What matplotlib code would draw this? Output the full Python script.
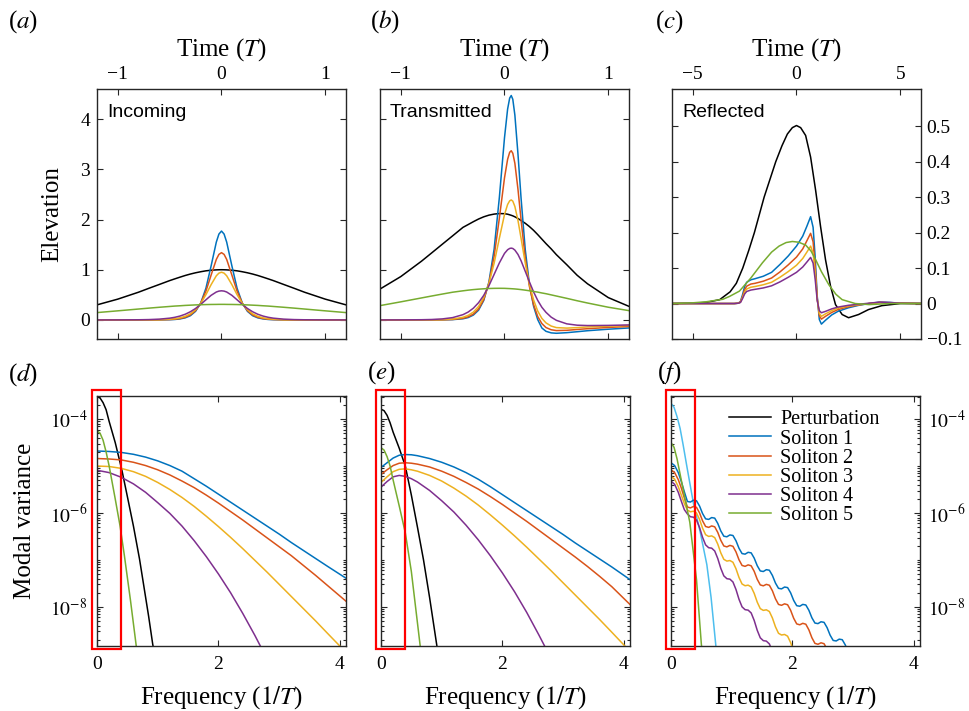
import matplotlib
matplotlib.use("Agg")
import matplotlib.pyplot as plt
import numpy as np
from matplotlib.patches import Rectangle
from matplotlib.ticker import FixedLocator, FixedFormatter, LogLocator, NullFormatter

plt.rcParams['font.family'] = ['Liberation Serif', 'DejaVu Serif']
plt.rcParams['mathtext.fontset'] = 'stix'

C_BLACK = 'black'
C_BLUE = '#0072BD'
C_RED = '#D95319'
C_YELLOW = '#EDB120'
C_PURPLE = '#7E2F8E'
C_GREEN = '#77AC30'
C_CYAN = '#4DBEEE'

# ---------------- (a) incoming ----------------
t_a = [-1.2, -1.0, -0.8, -0.7, -0.6, -0.5, -0.45, -0.4, -0.35, -0.3, -0.25, -0.2, -0.15, -0.1, -0.05, -0.025,
       0, 0.025, 0.05, 0.1, 0.15, 0.2, 0.25, 0.3, 0.35, 0.4, 0.45, 0.5, 0.6, 0.7, 0.8, 1.0, 1.2]
a_pert = [0.30, 0.414, 0.552, 0.63, 0.706, 0.783, 0.818, 0.852, 0.885, 0.914, 0.939, 0.96, 0.978, 0.99, 0.997, 0.999,
          1.0, 0.999, 0.997, 0.99, 0.978, 0.96, 0.939, 0.914, 0.885, 0.852, 0.818, 0.783, 0.706, 0.63, 0.552, 0.414, 0.30]
a_sol1 = [0, 0, 0, 0, 0.001, 0.0045, 0.009, 0.02, 0.041, 0.084, 0.171, 0.338, 0.632, 1.077, 1.55, 1.71,
          1.77, 1.71, 1.55, 1.077, 0.632, 0.338, 0.171, 0.084, 0.041, 0.02, 0.009, 0.0045, 0.001, 0, 0, 0, 0]
a_sol2 = [0, 0, 0, 0.0005, 0.002, 0.0075, 0.0143, 0.0275, 0.0525, 0.0995, 0.186, 0.336, 0.575, 0.894, 1.205, 1.305,
          1.34, 1.305, 1.205, 0.894, 0.575, 0.336, 0.186, 0.0995, 0.0525, 0.0275, 0.0143, 0.0075, 0.002, 0.0005, 0, 0, 0]
a_sol3 = [0, 0, 0.0005, 0.0015, 0.0045, 0.0137, 0.024, 0.0416, 0.0717, 0.122, 0.204, 0.328, 0.504, 0.703, 0.879, 0.932,
          0.95, 0.932, 0.879, 0.703, 0.504, 0.328, 0.204, 0.122, 0.0717, 0.0416, 0.024, 0.0137, 0.0045, 0.0015, 0.0005, 0, 0]
a_sol4 = [0.0001, 0.0006, 0.003, 0.0068, 0.0154, 0.0349, 0.052, 0.0771, 0.113, 0.163, 0.228, 0.31, 0.401, 0.49, 0.556, 0.574,
          0.58, 0.574, 0.556, 0.49, 0.401, 0.31, 0.228, 0.163, 0.113, 0.0771, 0.052, 0.0349, 0.0154, 0.0068, 0.003, 0.0006, 0.0001]
a_sol5 = [0.146, 0.181, 0.217, 0.235, 0.252, 0.268, 0.276, 0.282, 0.289, 0.294, 0.299, 0.303, 0.306, 0.308, 0.309, 0.31,
          0.31, 0.31, 0.309, 0.308, 0.306, 0.303, 0.299, 0.294, 0.289, 0.282, 0.276, 0.268, 0.252, 0.235, 0.217, 0.181, 0.146]

# ---------------- (b) transmitted ----------------
t_b = [-1.2, -1.0, -0.8, -0.7, -0.6, -0.5, -0.4, -0.35, -0.3, -0.25, -0.2, -0.15, -0.1, -0.05, 0.0, 0.03, 0.05, 0.065,
       0.08, 0.1, 0.13, 0.16, 0.2, 0.24, 0.28, 0.32, 0.36, 0.4, 0.45, 0.5, 0.6, 0.7, 0.8, 1.0, 1.2]
b_pert = [0.615, 0.863, 1.17, 1.338, 1.507, 1.675, 1.844, 1.90, 1.957, 2.01, 2.054, 2.087, 2.108, 2.119, 2.116, 2.106, 2.094, 2.084,
          2.073, 2.054, 2.02, 1.98, 1.925, 1.86, 1.785, 1.70, 1.61, 1.52, 1.415, 1.30, 1.10, 0.89, 0.72, 0.445, 0.27]
b_sol1 = [0, 0, 0, 0.001, 0.002, 0.006, 0.023, 0.047, 0.097, 0.194, 0.388, 0.757, 1.41, 2.43, 3.63, 4.20, 4.42, 4.47,
          4.395, 4.08, 3.30, 2.415, 1.40, 0.716, 0.275, 0.007, -0.16, -0.227, -0.258, -0.266, -0.254, -0.235, -0.215, -0.185, -0.16]
b_sol2 = [0, 0, 0, 0.001, 0.002, 0.009, 0.032, 0.062, 0.116, 0.218, 0.406, 0.734, 1.268, 2.02, 2.83, 3.20, 3.34, 3.37,
          3.32, 3.12, 2.60, 1.986, 1.235, 0.668, 0.306, 0.069, -0.072, -0.152, -0.196, -0.212, -0.207, -0.19, -0.175, -0.15, -0.13]
b_sol3 = [0, 0, 0.001, 0.003, 0.006, 0.017, 0.053, 0.091, 0.156, 0.267, 0.448, 0.728, 1.129, 1.623, 2.10, 2.30, 2.373, 2.39,
          2.366, 2.26, 1.98, 1.623, 1.133, 0.716, 0.40, 0.177, 0.031, -0.059, -0.122, -0.153, -0.163, -0.153, -0.14, -0.125, -0.11]
b_sol4 = [0, 0.001, 0.004, 0.0085, 0.02, 0.046, 0.105, 0.157, 0.234, 0.343, 0.49, 0.682, 0.907, 1.134, 1.325, 1.398, 1.424, 1.43,
          1.423, 1.391, 1.304, 1.177, 0.969, 0.759, 0.56, 0.39, 0.252, 0.151, 0.055, -0.008, -0.078, -0.105, -0.112, -0.109, -0.1]
b_sol5 = [0.285, 0.36, 0.438, 0.477, 0.515, 0.552, 0.58, 0.593, 0.604, 0.613, 0.62, 0.626, 0.629, 0.63, 0.629, 0.626, 0.624, 0.622,
          0.62, 0.617, 0.611, 0.604, 0.593, 0.581, 0.567, 0.554, 0.537, 0.522, 0.499, 0.476, 0.43, 0.382, 0.337, 0.253, 0.185]

# ---------------- (c) reflected ----------------
t_c_pert = [-6, -5, -4.35, -3.7, -3.2, -2.9, -2.59, -2.3, -2.03, -1.56, -1.0, -0.7, -0.44, -0.2, 0.0,
            0.2, 0.44, 0.68, 0.92, 1.16, 1.4, 1.64, 1.88, 2.2, 2.51, 2.99, 3.47, 4.11, 5.0, 6.0]
c_pert = [0.0, 0.001, 0.003, 0.011, 0.033, 0.057, 0.1, 0.15, 0.2, 0.3, 0.4, 0.445, 0.478, 0.496, 0.502,
          0.496, 0.474, 0.413, 0.32, 0.217, 0.123, 0.049, -0.003, -0.031, -0.04, -0.031, -0.017, -0.006, 0.0, 0.0]
t_c = [-6, -4, -3, -2.8, -2.7, -2.6, -2.5, -2.4, -2.2, -2.0, -1.6, -1.2, -0.8, -0.4, 0.0, 0.3, 0.5, 0.68,
       0.8, 0.9, 1.0, 1.1, 1.2, 1.4, 1.7, 2.0, 2.5, 3.0, 3.5, 4.0, 4.5, 5.0, 6.0]
c_sol1 = [0, 0, 0, 0.001, 0.006, 0.025, 0.048, 0.06, 0.067, 0.07, 0.077, 0.088, 0.11, 0.134, 0.162, 0.19, 0.218, 0.245,
          0.215, 0.13, 0.02, -0.045, -0.058, -0.047, -0.032, -0.022, -0.012, -0.005, 0.0, 0.004, 0.003, 0.001, 0.0]
c_sol2 = [0, 0, 0, 0.001, 0.005, 0.02, 0.039, 0.049, 0.055, 0.057, 0.063, 0.072, 0.089, 0.109, 0.131, 0.154, 0.177, 0.198,
          0.174, 0.105, 0.015, -0.034, -0.044, -0.036, -0.025, -0.017, -0.009, -0.004, 0.0, 0.003, 0.002, 0.001, 0.0]
c_sol3 = [0, 0, 0, 0.001, 0.004, 0.017, 0.032, 0.041, 0.046, 0.048, 0.053, 0.06, 0.074, 0.09, 0.108, 0.127, 0.145, 0.162,
          0.142, 0.086, 0.012, -0.028, -0.036, -0.029, -0.02, -0.013, -0.007, -0.003, 0.0, 0.003, 0.002, 0.001, 0.0]
c_sol4 = [0, 0, 0, 0.001, 0.003, 0.014, 0.027, 0.034, 0.038, 0.04, 0.044, 0.05, 0.061, 0.074, 0.088, 0.103, 0.117, 0.13,
          0.114, 0.068, 0.008, -0.02, -0.026, -0.022, -0.015, -0.01, -0.005, -0.002, 0.001, 0.004, 0.003, 0.001, 0.0]
t_c_sol5 = [-6, -5, -4.35, -3.55, -3.23, -2.75, -2.2, -1.64, -1.2, -0.84, -0.5, -0.2, 0.1, 0.44, 0.7, 0.92,
            1.2, 1.56, 1.9, 2.2, 2.83, 3.5, 4.5, 6.0]
c_sol5 = [0.0, 0.002, 0.005, 0.012, 0.02, 0.035, 0.072, 0.115, 0.145, 0.162, 0.172, 0.175, 0.173, 0.165, 0.148, 0.124,
          0.09, 0.053, 0.026, 0.011, 0.0, -0.003, 0.0, 0.0]

# ---------------- (d) incoming spectra, log10 of modal variance ----------------
f_d_pert = [0, 0.05, 0.1, 0.15, 0.2, 0.3, 0.407, 0.5, 0.6, 0.7, 0.764, 0.85, 0.918, 0.96]
d_pert = [-3.52, -3.55, -3.65, -3.8, -4.05, -4.5, -5.07, -5.65, -6.28, -6.98, -7.5, -8.2, -8.8, -9.1]
f_d_sol5 = [0, 0.05, 0.1, 0.15, 0.2, 0.25, 0.3, 0.38, 0.45, 0.55, 0.643, 0.67]
d_sol5 = [-4.25, -4.3, -4.45, -4.7, -5.0, -5.35, -5.7, -6.28, -6.9, -7.85, -8.8, -9.1]
f_d = [0, 0.2, 0.4, 0.6, 0.8, 1.0, 1.2, 1.4, 1.6, 1.8, 2.0, 2.2, 2.4, 2.6, 2.8, 3.0, 3.2, 3.4, 3.6, 3.8, 4.1]
d_sol1 = [-4.68, -4.69, -4.71, -4.75, -4.81, -4.89, -4.99, -5.11, -5.27, -5.43, -5.6, -5.77, -5.94, -6.11, -6.28,
          -6.45, -6.63, -6.8, -6.97, -7.14, -7.39]
d_sol2 = [-4.84, -4.85, -4.87, -4.92, -4.99, -5.08, -5.19, -5.32, -5.46, -5.62, -5.79, -5.97, -6.15, -6.34, -6.53,
          -6.72, -6.91, -7.12, -7.33, -7.55, -7.88]
d_sol3 = [-5.0, -5.01, -5.05, -5.12, -5.22, -5.35, -5.5, -5.67, -5.86, -6.07, -6.29, -6.52, -6.76, -7.01, -7.26,
          -7.52, -7.78, -8.04, -8.3, -8.57, -8.97]
d_sol4 = [-5.09, -5.14, -5.24, -5.38, -5.56, -5.78, -6.01, -6.28, -6.59, -6.93, -7.3, -7.7, -8.14, -8.61, -9.11,
          -9.6, -10, -10, -10, -10, -10]

# ---------------- (e) transmitted spectra ----------------
f_e_pert = [0, 0.05, 0.1, 0.15, 0.2, 0.3, 0.4, 0.5, 0.6, 0.7, 0.8, 0.92, 0.96]
e_pert = [-3.79, -3.82, -3.92, -4.08, -4.28, -4.62, -5.0, -5.62, -6.3, -7.0, -7.8, -8.83, -9.1]
f_e_sol5 = [0, 0.05, 0.1, 0.15, 0.2, 0.3, 0.4, 0.5, 0.645, 0.67]
e_sol5 = [-4.61, -4.66, -4.8, -5.0, -5.3, -5.85, -6.42, -7.25, -8.83, -9.1]
f_e = [0, 0.1, 0.2, 0.3, 0.4, 0.5, 0.6, 0.8, 1.0, 1.2, 1.4, 1.6, 1.8, 2.0, 2.2, 2.4, 2.6, 2.8, 3.0, 3.2, 3.4, 3.6, 3.8, 4.1]
e_sol1 = [-5.03, -4.93, -4.83, -4.77, -4.755, -4.76, -4.78, -4.84, -4.92, -5.02, -5.14, -5.28, -5.44, -5.61, -5.78,
          -5.95, -6.12, -6.29, -6.46, -6.64, -6.81, -6.98, -7.15, -7.42]
e_sol2 = [-5.18, -5.08, -4.99, -4.94, -4.93, -4.94, -4.96, -5.02, -5.11, -5.22, -5.35, -5.49, -5.65, -5.82, -6.0,
          -6.18, -6.37, -6.56, -6.75, -6.94, -7.14, -7.35, -7.57, -7.95]
e_sol3 = [-5.35, -5.23, -5.12, -5.07, -5.06, -5.08, -5.11, -5.2, -5.32, -5.47, -5.64, -5.83, -6.04, -6.26, -6.49,
          -6.73, -6.98, -7.23, -7.49, -7.75, -8.01, -8.27, -8.54, -8.95]
e_sol4 = [-5.45, -5.33, -5.23, -5.2, -5.22, -5.27, -5.34, -5.52, -5.74, -5.98, -6.26, -6.57, -6.91, -7.28, -7.68,
          -8.12, -8.6, -9.1, -9.6, -10, -10, -10, -10, -10]

# ---------------- (f) reflected spectra ----------------
f_f_pert = [0, 0.05, 0.1, 0.15, 0.2, 0.26, 0.37, 0.48, 0.59, 0.66, 0.74, 0.77]
f_pert = [-3.66, -3.75, -3.95, -4.2, -4.55, -5.0, -5.8, -6.4, -7.1, -7.8, -8.85, -9.1]
f_f_sol5 = [0, 0.05, 0.1, 0.2, 0.31, 0.42, 0.5, 0.53]
f_sol5 = [-4.5, -4.6, -4.85, -5.5, -6.2, -7.42, -8.8, -9.1]
f_f = [0, 0.06, 0.12, 0.17, 0.22, 0.27, 0.32, 0.37,
       0.42, 0.47, 0.52, 0.57, 0.62, 0.67, 0.72, 0.77, 0.82, 0.87, 0.92, 0.97, 1.02, 1.07, 1.12, 1.17,
       1.22, 1.27, 1.32, 1.37, 1.42, 1.47, 1.52, 1.57, 1.62, 1.67, 1.72, 1.77, 1.82, 1.87, 1.92, 1.97,
       2.02, 2.07, 2.12, 2.17, 2.22, 2.27, 2.32, 2.37, 2.42, 2.47, 2.52, 2.57, 2.62, 2.67, 2.72, 2.77,
       2.82, 2.87, 2.92, 2.97]
f_sol1 = [-4.93, -4.99, -5.14, -5.33, -5.55, -5.755, -5.767, -5.728,
          -5.74, -5.852, -6.013, -6.125, -6.137, -6.098, -6.11, -6.222, -6.383, -6.495, -6.507, -6.468,
          -6.48, -6.592, -6.753, -6.865, -6.877, -6.838, -6.85, -6.962, -7.123, -7.235, -7.247, -7.208,
          -7.22, -7.332, -7.493, -7.605, -7.617, -7.578, -7.59, -7.702, -7.863, -7.975, -7.987, -7.948,
          -7.96, -8.072, -8.233, -8.345, -8.357, -8.318, -8.33, -8.442, -8.603, -8.715, -8.727, -8.688,
          -8.70, -8.812, -8.973, -9.085]
f_sol2 = [-5.08, -5.14, -5.29, -5.47, -5.68, -5.873, -5.892, -5.861,
          -5.88, -5.999, -6.168, -6.288, -6.307, -6.276, -6.295, -6.414, -6.583, -6.703, -6.722, -6.691,
          -6.71, -6.829, -6.998, -7.118, -7.137, -7.106, -7.125, -7.244, -7.413, -7.533, -7.552, -7.521,
          -7.54, -7.659, -7.828, -7.948, -7.967, -7.936, -7.955, -8.074, -8.243, -8.363, -8.382, -8.351,
          -8.37, -8.489, -8.658, -8.778, -8.797, -8.766, -8.785, -8.904, -9.073, -9.193, -9.212, -9.181,
          -9.2, -9.319, -9.488, -9.608]
f_sol3 = [-5.22, -5.28, -5.44, -5.62, -5.8, -5.938, -5.975, -5.963,
          -6.0, -6.138, -6.325, -6.463, -6.5, -6.488, -6.525, -6.663, -6.85, -6.988, -7.025, -7.013,
          -7.05, -7.188, -7.375, -7.513, -7.55, -7.538, -7.575, -7.713, -7.9, -8.038, -8.075, -8.063,
          -8.1, -8.238, -8.425, -8.563, -8.6, -8.588, -8.625, -8.763, -8.95, -9.088, -9.125, -9.113,
          -9.7, -9.7, -9.7, -9.7, -9.7, -9.7, -9.7, -9.7, -9.7, -9.7, -9.7, -9.7,
          -9.7, -9.7, -9.7, -9.7]
f_sol4 = [-5.32, -5.39, -5.56, -5.75, -5.93, -6.02, -6.08, -6.09,
          -6.15, -6.31, -6.52, -6.68, -6.74, -6.75, -6.81, -6.97, -7.18, -7.34, -7.40, -7.41,
          -7.47, -7.63, -7.84, -8.0, -8.06, -8.07, -8.13, -8.29, -8.5, -8.66, -8.72, -8.73,
          -8.79, -8.95, -9.16, -9.32, -9.38, -9.39, -9.7, -9.7, -9.7, -9.7, -9.7, -9.7,
          -9.7, -9.7, -9.7, -9.7, -9.7, -9.7, -9.7, -9.7, -9.7, -9.7, -9.7, -9.7,
          -9.7, -9.7, -9.7, -9.7]

legend_labels = ['Perturbation', 'Soliton 1', 'Soliton 2', 'Soliton 3', 'Soliton 4', 'Soliton 5']

LW = 1.1
TICK_FS = 14
LABEL_FS = 18


def style(ax):
    for s in ax.spines.values():
        s.set_linewidth(1.0)
        s.set_color('#262626')
    ax.tick_params(which='both', direction='in', top=True, right=True, bottom=True, left=True,
                   labelsize=TICK_FS, color='#262626', width=0.8)
    ax.tick_params(which='major', length=4.5)
    ax.tick_params(which='minor', length=2.2)


fig = plt.figure(figsize=(9.7, 7.11), dpi=100)

W = 249 / 970
H = 250 / 711
top_y = 1 - 339 / 711
bot_y = 1 - 646 / 711
ax_a = fig.add_axes([97 / 970, top_y, W, H])
ax_b = fig.add_axes([380 / 970, top_y, W, H])
ax_c = fig.add_axes([672 / 970, top_y, W, H])
ax_d = fig.add_axes([97 / 970, bot_y, W, H])
ax_e = fig.add_axes([381 / 970, bot_y, W, H])
ax_f = fig.add_axes([671 / 970, bot_y, W, H])

# top row
ax_a.plot(t_a, a_pert, color=C_BLACK, lw=LW)
ax_a.plot(t_a, a_sol1, color=C_BLUE, lw=LW)
ax_a.plot(t_a, a_sol2, color=C_RED, lw=LW)
ax_a.plot(t_a, a_sol3, color=C_YELLOW, lw=LW)
ax_a.plot(t_a, a_sol4, color=C_PURPLE, lw=LW)
ax_a.plot(t_a, a_sol5, color=C_GREEN, lw=LW)

ax_b.plot(t_b, b_pert, color=C_BLACK, lw=LW)
ax_b.plot(t_b, b_sol1, color=C_BLUE, lw=LW)
ax_b.plot(t_b, b_sol2, color=C_RED, lw=LW)
ax_b.plot(t_b, b_sol3, color=C_YELLOW, lw=LW)
ax_b.plot(t_b, b_sol4, color=C_PURPLE, lw=LW)
ax_b.plot(t_b, b_sol5, color=C_GREEN, lw=LW)

ax_c.plot(t_c_pert, c_pert, color=C_BLACK, lw=LW)
ax_c.plot(t_c, c_sol1, color=C_BLUE, lw=LW)
ax_c.plot(t_c, c_sol2, color=C_RED, lw=LW)
ax_c.plot(t_c, c_sol3, color=C_YELLOW, lw=LW)
ax_c.plot(t_c, c_sol4, color=C_PURPLE, lw=LW)
ax_c.plot(t_c_sol5, c_sol5, color=C_GREEN, lw=LW)

for ax, txt in [(ax_a, 'Incoming'), (ax_b, 'Transmitted'), (ax_c, 'Reflected')]:
    style(ax)
    ax.tick_params(labeltop=True, labelbottom=False, pad=4)
    ax.xaxis.set_label_position('top')
    ax.set_xlabel('Time ($T$)', fontsize=LABEL_FS, labelpad=8)
    ax.text(0.04, 0.905, txt, transform=ax.transAxes, family='Liberation Sans', fontsize=14, va='center', ha='left')

for ax in (ax_a, ax_b):
    ax.set_xlim(-1.2, 1.2)
    ax.xaxis.set_major_locator(FixedLocator([-1, 0, 1]))
    ax.xaxis.set_major_formatter(FixedFormatter(['\u22121', '0', '1']))
    ax.set_ylim(-0.38, 4.6)
    ax.yaxis.set_major_locator(FixedLocator([0, 1, 2, 3, 4]))

ax_a.tick_params(axis='y', labelleft=True, pad=5)
ax_a.set_ylabel('Elevation', fontsize=LABEL_FS, labelpad=12)
ax_b.tick_params(axis='y', labelleft=False)

ax_c.set_xlim(-6, 6)
ax_c.xaxis.set_major_locator(FixedLocator([-5, 0, 5]))
ax_c.xaxis.set_major_formatter(FixedFormatter(['\u22125', '0', '5']))
ax_c.set_ylim(-0.1, 0.605)
ax_c.yaxis.set_major_locator(FixedLocator([-0.1, 0, 0.1, 0.2, 0.3, 0.4, 0.5]))
ax_c.yaxis.set_major_formatter(FixedFormatter(['\u22120.1', '0', '0.1', '0.2', '0.3', '0.4', '0.5']))
ax_c.tick_params(axis='y', labelleft=False, labelright=True, pad=4)

# bottom row
lines_d = []
lines_d += ax_d.semilogy(f_d_pert, 10.0 ** np.array(d_pert), color=C_BLACK, lw=LW)
lines_d += ax_d.semilogy(f_d, 10.0 ** np.array(d_sol1), color=C_BLUE, lw=LW)
lines_d += ax_d.semilogy(f_d, 10.0 ** np.array(d_sol2), color=C_RED, lw=LW)
lines_d += ax_d.semilogy(f_d, 10.0 ** np.array(d_sol3), color=C_YELLOW, lw=LW)
lines_d += ax_d.semilogy(f_d, 10.0 ** np.array(d_sol4), color=C_PURPLE, lw=LW)
lines_d += ax_d.semilogy(f_d_sol5, 10.0 ** np.array(d_sol5), color=C_GREEN, lw=LW)

ax_e.semilogy(f_e_pert, 10.0 ** np.array(e_pert), color=C_BLACK, lw=LW)
ax_e.semilogy(f_e, 10.0 ** np.array(e_sol1), color=C_BLUE, lw=LW)
ax_e.semilogy(f_e, 10.0 ** np.array(e_sol2), color=C_RED, lw=LW)
ax_e.semilogy(f_e, 10.0 ** np.array(e_sol3), color=C_YELLOW, lw=LW)
ax_e.semilogy(f_e, 10.0 ** np.array(e_sol4), color=C_PURPLE, lw=LW)
ax_e.semilogy(f_e_sol5, 10.0 ** np.array(e_sol5), color=C_GREEN, lw=LW)

ax_f.semilogy(f_f_pert, 10.0 ** np.array(f_pert), color=C_CYAN, lw=LW)
ax_f.semilogy(f_f, 10.0 ** np.array(f_sol1), color=C_BLUE, lw=LW)
ax_f.semilogy(f_f, 10.0 ** np.array(f_sol2), color=C_RED, lw=LW)
ax_f.semilogy(f_f, 10.0 ** np.array(f_sol3), color=C_YELLOW, lw=LW)
ax_f.semilogy(f_f, 10.0 ** np.array(f_sol4), color=C_PURPLE, lw=LW)
ax_f.semilogy(f_f_sol5, 10.0 ** np.array(f_sol5), color=C_GREEN, lw=LW)

for ax in (ax_d, ax_e, ax_f):
    style(ax)
    ax.set_xlim(0, 4.1)
    ax.set_ylim(10 ** -8.834, 10 ** -3.508)
    ax.xaxis.set_major_locator(FixedLocator([0, 2, 4]))
    ax.xaxis.set_major_formatter(FixedFormatter(['0', '2', '4']))
    ax.yaxis.set_major_locator(FixedLocator([1e-8, 1e-6, 1e-4]))
    ax.yaxis.set_major_formatter(FixedFormatter(['$10^{-8}$', '$10^{-6}$', '$10^{-4}$']))
    ax.yaxis.set_minor_locator(LogLocator(base=10, subs=np.arange(1, 10), numticks=20))
    ax.yaxis.set_minor_formatter(NullFormatter())
    ax.tick_params(axis='x', pad=7)
    ax.set_xlabel('Frequency ($1/T$)', fontsize=LABEL_FS, labelpad=8)
    ax.add_patch(Rectangle((-0.022, -0.012), 0.118, 1.035, transform=ax.transAxes, fill=False,
                           edgecolor='#FF0000', lw=1.6, clip_on=False, zorder=5))

ax_d.tick_params(axis='y', labelleft=True, pad=7)
ax_d.set_ylabel('Modal variance', fontsize=LABEL_FS, labelpad=10)
ax_e.tick_params(axis='y', labelleft=False)
ax_f.tick_params(axis='y', labelleft=False, labelright=True, pad=6)

ax_f.legend(lines_d, legend_labels, loc='upper left', bbox_to_anchor=(0.2, 0.975), frameon=False,
            fontsize=14.5, handlelength=2.1, handletextpad=0.45, labelspacing=0.0, borderaxespad=0)

# panel letters
for x, y, s in [(8, 22, '($a$)'), (370, 22, '($b$)'), (655, 22, '($c$)'),
                (8, 375, '($d$)'), (367, 373, '($e$)'), (657, 373, '($f$)')]:
    fig.text(x / 970, 1 - y / 711, s, fontsize=LABEL_FS, va='center', ha='left')

fig.savefig('out.png', dpi=100)
